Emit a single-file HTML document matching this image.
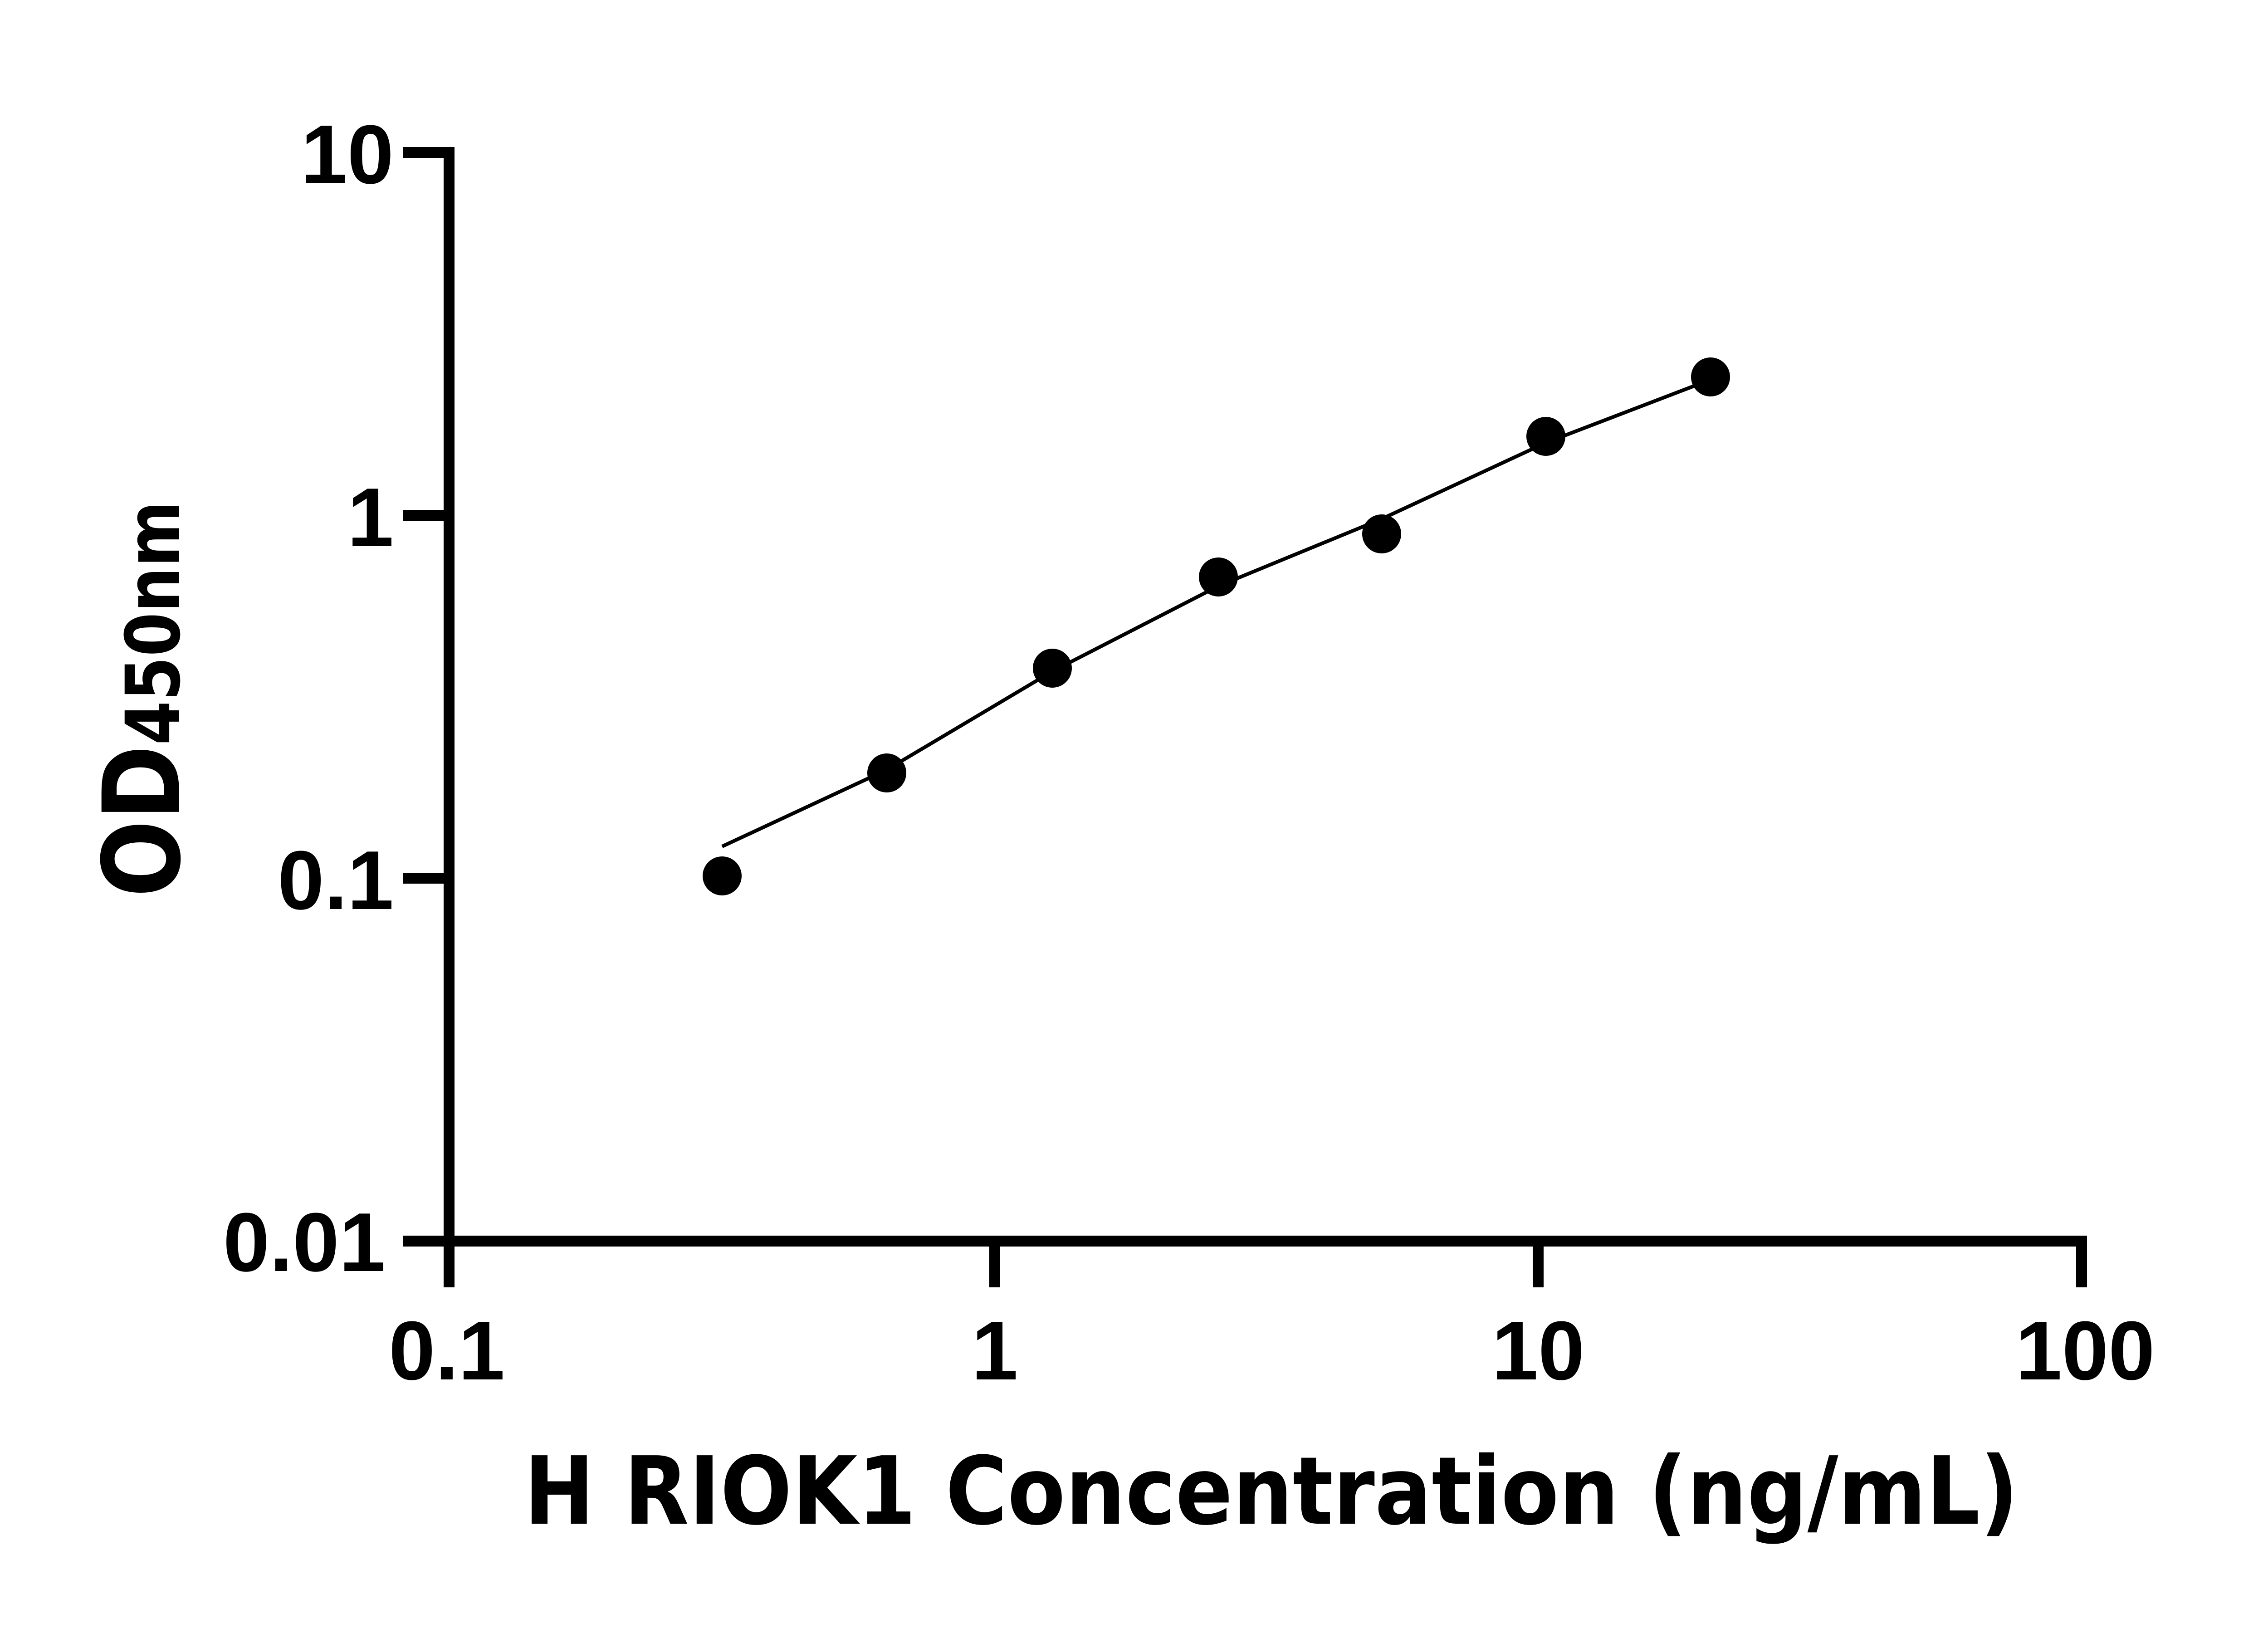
<!DOCTYPE html>
<html><head><meta charset="utf-8"><style>html,body{margin:0;padding:0;background:#fff}svg{display:block}</style></head>
<body>
<svg width="5142" height="3600" viewBox="0 0 5142 3600" xmlns="http://www.w3.org/2000/svg">
<rect width="5142" height="3600" fill="#fff"/>
<g stroke="#000" stroke-width="24" fill="none">
<line x1="990" y1="324" x2="990" y2="2748"/>
<line x1="978" y1="2736" x2="4601" y2="2736"/>
<line x1="888" y1="336" x2="1002" y2="336"/>
<line x1="888" y1="1136" x2="990" y2="1136"/>
<line x1="888" y1="1936" x2="990" y2="1936"/>
<line x1="888" y1="2736" x2="990" y2="2736"/>
<line x1="990" y1="2736" x2="990" y2="2838"/>
<line x1="2193" y1="2736" x2="2193" y2="2838"/>
<line x1="3391" y1="2736" x2="3391" y2="2838"/>
<line x1="4589" y1="2724" x2="4589" y2="2838"/>
</g>
<g font-family="'Liberation Sans', Arial, sans-serif" font-weight="bold" font-size="184" fill="#000">
<text x="868" y="404" text-anchor="end">10</text>
<text x="868" y="1204" text-anchor="end">1</text>
<text x="868" y="2004" text-anchor="end">0.1</text>
<text x="850" y="2802" text-anchor="end">0.01</text>
<text x="985" y="3041" text-anchor="middle">0.1</text>
<text x="2193" y="3041" text-anchor="middle">1</text>
<text x="3391" y="3041" text-anchor="middle">10</text>
<text x="4597" y="3041" text-anchor="middle">100</text>
</g>
<text x="1155" y="3359" font-family="'DejaVu Sans', sans-serif" font-weight="bold" font-size="207" textLength="3295" lengthAdjust="spacingAndGlyphs">H RIOK1 Concentration (ng/mL)</text>
<text transform="translate(395,1978) rotate(-90)" font-family="'DejaVu Sans', sans-serif" font-weight="bold" textLength="874" lengthAdjust="spacingAndGlyphs"><tspan font-size="235">OD</tspan><tspan font-size="165">450nm</tspan></text>
<polyline fill="none" stroke="#000" stroke-width="8" points="1592,1866 1955,1697 2320,1480 2686,1292 3046,1144 3408,976 3771,837"/>
<g fill="#000">
<circle cx="1592" cy="1931" r="43"/>
<circle cx="1955" cy="1704" r="43"/>
<circle cx="2320" cy="1473" r="43"/>
<circle cx="2686" cy="1272" r="43"/>
<circle cx="3046" cy="1177" r="43"/>
<circle cx="3408" cy="962" r="43"/>
<circle cx="3771" cy="831" r="43"/>
</g>
</svg>
</body></html>
